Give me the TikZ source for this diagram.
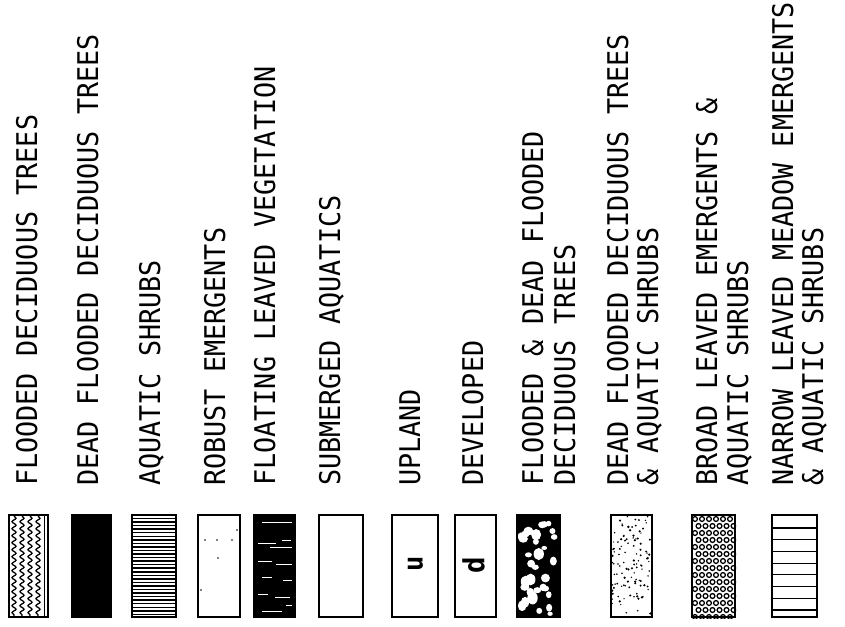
\documentclass[tikz,border=0pt]{standalone}
\usepackage{fontspec}
\newfontfamily\plotfont[FakeStretch=0.94]{DejaVu Sans Mono}
\usetikzlibrary{decorations.pathmorphing}
\begin{document}
\begin{tikzpicture}[x=1pt,y=-1pt,
  lbl/.style={font=\plotfont\fontsize{28.5}{31}\selectfont, anchor=base west, rotate=90, inner sep=0pt},
  swatch/.style={draw=black, line width=2pt, inner sep=0pt, minimum height=102pt},
  glyph/.style={font=\plotfont\bfseries\fontsize{27}{27}\selectfont, rotate=90, inner sep=0pt},
  hatch/.style={line width=1.5pt},
  ]
\useasboundingbox[fill=white] (0,0) rectangle (845,626);

% labels
\node[lbl] (t1) at (37,486) {FLOODED DECIDUOUS TREES};
\node[lbl] (t2) at (98,486) {DEAD FLOODED DECIDUOUS TREES};
\node[lbl] (t3) at (160,486) {AQUATIC SHRUBS};
\node[lbl] (t4) at (225,486) {ROBUST EMERGENTS};
\node[lbl] (t5) at (275,486) {FLOATING LEAVED VEGETATION};
\node[lbl] (t6) at (340,486) {SUBMERGED AQUATICS};
\node[lbl] (t7) at (420,486) {UPLAND};
\node[lbl] (t8) at (483,486) {DEVELOPED};
\node[lbl] (t9a) at (543,486) {FLOODED \& DEAD FLOODED};
\node[lbl] (t9b) at (575,486) {DECIDUOUS TREES};
\node[lbl] (t10a) at (628,486) {DEAD FLOODED DECIDUOUS TREES};
\node[lbl] (t10b) at (658,486) {\& AQUATIC SHRUBS};
\node[lbl] (t11a) at (717,486) {BROAD LEAVED EMERGENTS \&};
\node[lbl] (t11b) at (748,486) {AQUATIC SHRUBS};
\node[lbl] (t12a) at (793,486) {NARROW LEAVED MEADOW EMERGENTS};
\node[lbl] (t12b) at (823,486) {\& AQUATIC SHRUBS};

% swatches
\node[swatch, minimum width=39pt] (s1) at (28.5,566) {};
\node[swatch, fill=black, minimum width=39pt] (s2) at (91.5,566) {};
\node[swatch, minimum width=44pt] (s3) at (154,566) {};
\node[swatch, minimum width=42pt] (s4) at (219,566) {};
\node[swatch, fill=black, minimum width=41pt] (s5) at (274.5,566) {};
\node[swatch, minimum width=44pt] (s6) at (341,566) {};
\node[swatch, minimum width=46pt] (s7) at (415,566) {};
\node[swatch, minimum width=41pt] (s8) at (475.5,566) {};
\node[swatch, fill=black, minimum width=43pt] (s9) at (538.5,566) {};
\node[swatch, minimum width=41pt] (s10) at (631.5,566) {};
\node[swatch, minimum width=43pt] (s11) at (713.5,566) {};
\node[swatch, minimum width=45pt] (s12) at (794.5,566) {};

% 1 flooded deciduous trees: wavy vertical lines
\begin{scope}
\clip (s1.south west) rectangle (s1.north east);
\foreach \xx in {14,22,30,38}
  \draw[line width=1.3pt, decorate, decoration={snake, amplitude=2pt, segment length=7pt}] (\xx,516) -- (\xx,616);
\draw[line width=1pt] (44,516) -- (44,616);
\end{scope}

% 3 aquatic shrubs: dense horizontal lines
\begin{scope}
\clip (s3.south west) rectangle (s3.north east);
\foreach \k in {0,...,27}
  \draw[hatch] (132,{518.5+\k*3.55}) -- (176,{518.5+\k*3.55});
\end{scope}

% 4 robust emergents: sparse dots
\foreach \p in {(205,540),(217,540),(232,540),(218,558),(201,590),(237,530)}
  \fill \p circle[radius=0.8];

% 5 floating leaved vegetation: white dashes on black
\foreach \a/\b/\yy in {262/292/522, 258/276/543, 282/291/540, 270/292/547, 258/272/561, 276/292/564,
                       262/272/577, 283/292/580, 258/268/594, 275/290/597, 262/282/611, 286/292/605}
  \draw[white, line width=1pt] (\a,\yy) -- (\b,\yy);

% 7 upland, 8 developed
\node[glyph] (gu) at (415.5,563.5) {u};
\node[glyph, font=\plotfont\bfseries\fontsize{29}{29}\selectfont] (gd) at (473.5,565) {d};

% 9 flooded & dead flooded deciduous trees: white blobs on black
\begin{scope}
\clip ([shift={(2pt,2pt)}]s9.south west) rectangle ([shift={(-2pt,-2pt)}]s9.north east);
\pgfmathsetseed{7}
\foreach \i in {1,...,34}{
  \pgfmathsetmacro\bx{521+rnd*36}
  \pgfmathsetmacro\by{518+rnd*96}
  \pgfmathsetmacro\br{2.6+rnd*2.6}
  \pgfmathsetmacro\bs{0.7+rnd*0.6}
  \fill[white] (\bx,\by) ellipse[x radius=\br, y radius=\br*\bs];
}
\end{scope}

% 10 dead flooded deciduous trees & aquatic shrubs: stipple
\begin{scope}
\clip (s10.south west) rectangle (s10.north east);
\pgfmathsetseed{11}
\foreach \i in {1,...,110}{
  \pgfmathsetmacro\bx{612+rnd*39}
  \pgfmathsetmacro\by{516+rnd*100}
  \pgfmathsetmacro\br{0.7+rnd*0.6}
  \fill (\bx,\by) circle[radius=\br];
}
\end{scope}

% 11 broad leaved emergents: rings
\begin{scope}
\clip (s11.south west) rectangle (s11.north east);
\foreach \r in {0,...,14}
  \foreach \c in {0,...,5}{
    \pgfmathsetmacro\cx{695+\c*7+mod(\r,2)*3.5}
    \pgfmathsetmacro\cy{519+\r*7}
    \draw[line width=1.3pt] (\cx,\cy) circle[radius=2.4];
  }
\end{scope}

% 12 narrow leaved meadow emergents: spaced horizontal lines
\foreach \k in {0,...,7}
  \draw[line width=1.2pt] (s12.west |- 0,{528+\k*11.7}) -- (s12.east |- 0,{528+\k*11.7});

\end{tikzpicture}
\end{document}
